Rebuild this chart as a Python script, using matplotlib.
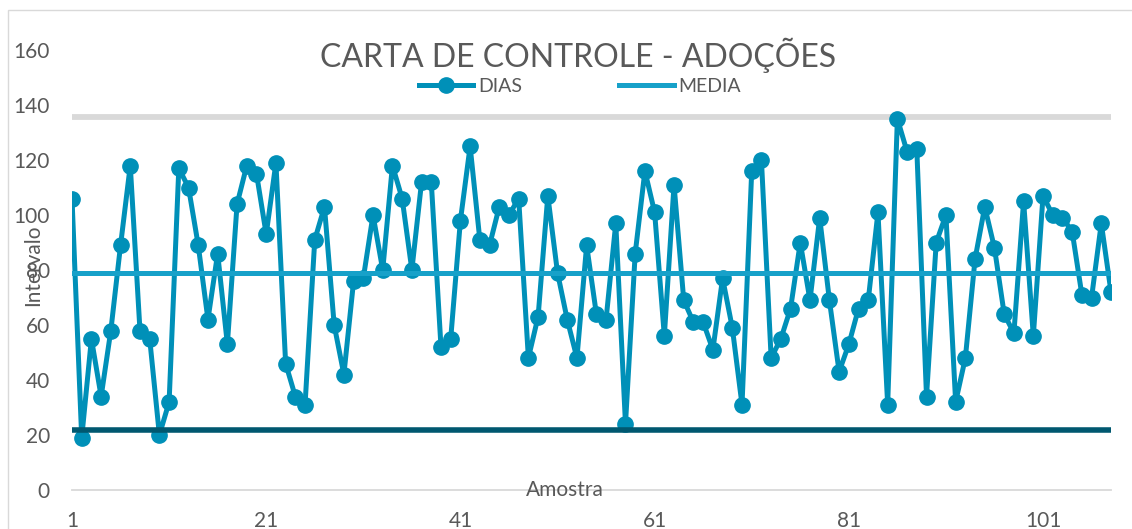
import numpy as np
import matplotlib.pyplot as plt
from matplotlib.patches import Rectangle

# amostras 1..108
dias = [106, 19, 55, 34, 58, 89, 118, 58, 55, 20,
        32, 117, 110, 89, 62, 86, 53, 104, 118, 115,
        93, 119, 46, 34, 31, 91, 103, 60, 42, 76,
        77, 100, 80, 118, 106, 80, 112, 112, 52, 55,
        98, 125, 91, 89, 103, 100, 106, 48, 63, 107,
        79, 62, 48, 89, 64, 62, 97, 24, 86, 116,
        101, 56, 111, 69, 61, 61, 51, 77, 59, 31,
        116, 120, 48, 55, 66, 90, 69, 99, 69, 43,
        53, 66, 69, 101, 31, 135, 123, 124, 34, 90,
        100, 32, 48, 84, 103, 88, 64, 57, 105, 56,
        107, 100, 99, 94, 71, 70, 97, 72]
media = 78.8
lsc = 135.5
lic = 21.8
x_ticks = [1, 21, 41, 61, 81, 101]
y_ticks = [0, 20, 40, 60, 80, 100, 120, 140, 160]

amostra = np.arange(1, len(dias) + 1)

plt.rcParams['font.family'] = ['Lato', 'DejaVu Sans']
gray = '#595959'

fig = plt.figure(figsize=(11.32, 5.29), dpi=100)
ax = fig.add_axes([72 / 1132, 39 / 529, 1039 / 1132, 440 / 529])

ax.plot(amostra, [lsc] * len(dias), color='#D9D9D9', lw=4.2, solid_capstyle='round', zorder=1)
l_dias, = ax.plot(amostra, dias, color='#0090B8', lw=3.6, marker='o', markersize=11,
                  label='DIAS', zorder=2)
l_media, = ax.plot(amostra, [media] * len(dias), color='#17A1C9', lw=3.6,
                   label='MEDIA', zorder=3)
ax.plot(amostra, [lic] * len(dias), color='#005870', lw=4.0, solid_capstyle='round', zorder=4)

ax.set_xlim(1, len(dias))
ax.set_ylim(0, 160)
ax.set_xticks(x_ticks)
ax.set_yticks(y_ticks)
ax.tick_params(axis='both', length=0, labelsize=15, labelcolor=gray)
ax.tick_params(axis='x', pad=15)
ax.tick_params(axis='y', pad=16)

for s in ['top', 'right', 'left']:
    ax.spines[s].set_visible(False)
ax.spines['bottom'].set_color('#D9D9D9')
ax.spines['bottom'].set_linewidth(1.3)
ax.spines['bottom'].set_zorder(0)

ax.set_xlabel('Amostra', fontsize=15, color=gray, va='center')
ax.xaxis.set_label_coords(0.4745, 0.0)
ax.set_ylabel('Intervalo', fontsize=15, color=gray, va='center')
ax.yaxis.set_label_coords(-0.037, 0.51)

fig.text(578 / 1132, 1 - 55 / 529, 'CARTA DE CONTROLE - ADOÇÕES', fontsize=23,
         color=gray, ha='center', va='center')

fig.legend(handles=[l_dias, l_media], loc='center', bbox_to_anchor=(580 / 1132, 1 - 86 / 529),
           ncol=2, frameon=False, fontsize=14, labelcolor=gray, handlelength=2.8,
           handletextpad=0.25, columnspacing=5.0, borderpad=0)

fig.add_artist(Rectangle((8 / 1132, -0.05), 1.1, 0.981 + 0.05, transform=fig.transFigure,
                         fill=False, edgecolor='#D9D9D9', lw=1.0, clip_on=False))

fig.savefig('out.png', dpi=100)
